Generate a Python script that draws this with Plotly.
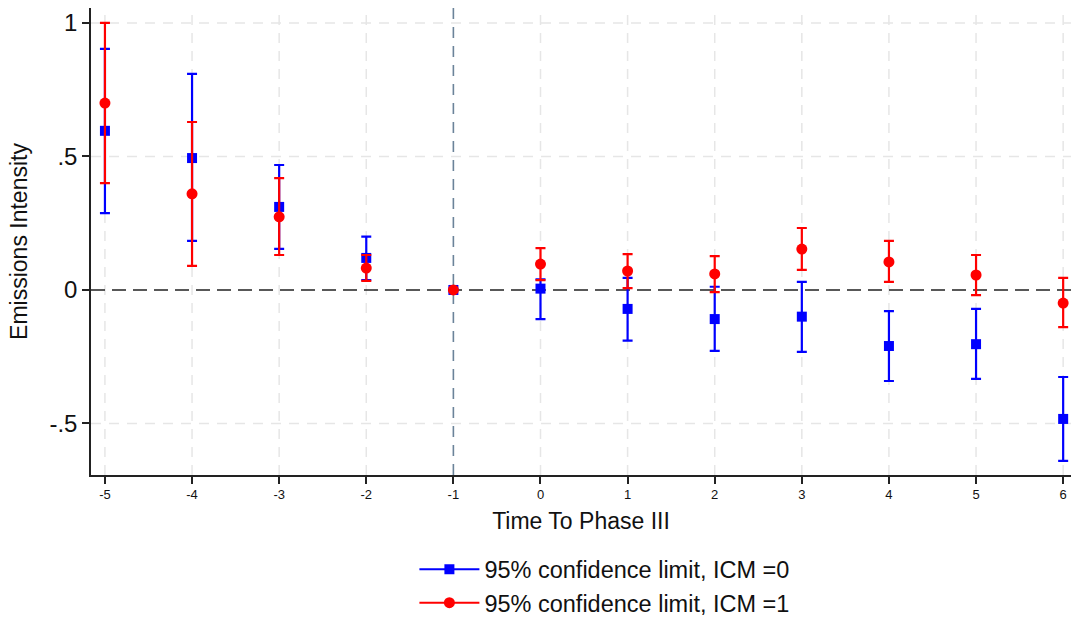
import plotly.graph_objects as go

periods = [-5, -4, -3, -2, -1, 0, 1, 2, 3, 4, 5, 6]

icm0_est = [0.596, 0.494, 0.311, 0.120, 0.0, 0.005, -0.071, -0.109, -0.100, -0.210, -0.203, -0.483]
icm0_hi = [0.903, 0.809, 0.468, 0.200, 0.0, 0.040, 0.045, 0.012, 0.030, -0.079, -0.071, -0.326]
icm0_lo = [0.288, 0.184, 0.154, 0.037, 0.0, -0.109, -0.190, -0.228, -0.232, -0.341, -0.333, -0.640]

icm1_est = [0.700, 0.360, 0.274, 0.082, 0.0, 0.097, 0.071, 0.060, 0.153, 0.105, 0.056, -0.049]
icm1_hi = [1.000, 0.629, 0.419, 0.131, 0.0, 0.157, 0.134, 0.127, 0.232, 0.184, 0.131, 0.045]
icm1_lo = [0.400, 0.090, 0.131, 0.034, 0.0, 0.037, 0.007, -0.008, 0.075, 0.030, -0.019, -0.139]

y_ticks = [-0.5, 0, 0.5, 1]
y_tick_labels = ["-.5", "0", ".5", "1"]

ref_y = 0
ref_x = -1

names = ["95% confidence limit, ICM =0", "95% confidence limit, ICM =1"]
colors = ["#0000ff", "#ff0000"]
symbols = ["square", "circle"]
sizes = [10, 11]

fig = go.Figure()

series = [(icm0_est, icm0_hi, icm0_lo), (icm1_est, icm1_hi, icm1_lo)]
for (est, hi, lo), name, col, sym, sz in zip(series, names, colors, symbols, sizes):
    fig.add_trace(go.Scatter(
        x=periods, y=est, mode="markers", showlegend=False,
        marker=dict(color=col, symbol=sym, size=sz),
        error_y=dict(type="data", symmetric=False,
                     array=[h - e for h, e in zip(hi, est)],
                     arrayminus=[e - l for e, l in zip(est, lo)],
                     color=col, thickness=2.2, width=5),
    ))
    fig.add_trace(go.Scatter(
        x=[None], y=[None], mode="lines+markers", name=name,
        line=dict(color=col, width=2),
        marker=dict(color=col, symbol=sym, size=sz),
    ))

grid_line = dict(color="#e6e6e6", width=1.5, dash="10px,8px")
for yv in y_ticks:
    if yv != ref_y:
        fig.add_hline(y=yv, line=grid_line, layer="below")
for xv in periods:
    if xv != ref_x:
        fig.add_vline(x=xv, line=grid_line, layer="below")

fig.add_hline(y=ref_y, line=dict(color="#222222", width=1.5, dash="14px,7px"), layer="below")
fig.add_vline(x=ref_x, line=dict(color="#6b8399", width=1.6, dash="11px,8px"), layer="below")

fig.update_layout(
    width=1071, height=619,
    margin=dict(l=91, r=0, t=8, b=144, autoexpand=False),
    paper_bgcolor="white", plot_bgcolor="white",
    font=dict(family="Liberation Sans, Arial, sans-serif", color="#111111"),
    xaxis=dict(
        range=[-5.16, 6.09], tickmode="array", tickvals=periods,
        ticktext=[str(p) for p in periods],
        showline=True, linecolor="#222222", linewidth=1.5,
        ticks="outside", ticklen=7, tickcolor="#222222", tickwidth=1.5,
        tickfont=dict(size=13),
        showgrid=False, zeroline=False, automargin=False,
        title=dict(text="Time To Phase III", font=dict(size=23), standoff=12),
    ),
    yaxis=dict(
        range=[-0.693, 1.056], tickmode="array", tickvals=y_ticks, ticktext=y_tick_labels,
        showline=True, linecolor="#222222", linewidth=1.5,
        ticks="outside", ticklen=7, tickcolor="#222222", tickwidth=1.5,
        tickfont=dict(size=24),
        showgrid=False, zeroline=False, automargin=False,
        title=dict(text="Emissions Intensity", font=dict(size=23), standoff=15),
    ),
    legend=dict(
        x=0.33, xanchor="left", y=-0.155, yanchor="top",
        font=dict(size=23.5), bgcolor="rgba(0,0,0,0)",
        itemwidth=60, tracegroupgap=0,
    ),
)

fig.write_html("out.html")
